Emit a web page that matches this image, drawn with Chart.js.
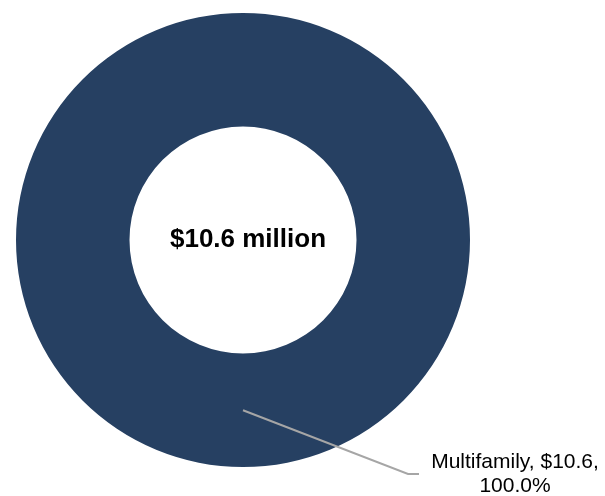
<!DOCTYPE html>
<html>
<head>
<meta charset="utf-8">
<script src="https://cdn.jsdelivr.net/npm/chart.js@4.4.0/dist/chart.umd.min.js"></script>
<style>
  html, body { margin: 0; padding: 0; background: #ffffff; }
  #wrap { position: relative; width: 605px; height: 496px; }
</style>
</head>
<body>
<div id="wrap"><canvas id="chart" width="605" height="496"></canvas></div>
<script>
// data
const categories = ['Multifamily'];
const values = [10.6];
const shares = ['100.0%'];
const totalLabel = '$10.6 million';

const sliceColors = ['#264062'];

// center total + leader-line labels
const donutLabels = {
  id: 'donutLabels',
  afterDatasetsDraw(chart) {
    const ctx = chart.ctx;
    const meta = chart.getDatasetMeta(0);
    const first = meta.data[0];

    // total in the hole
    ctx.save();
    ctx.fillStyle = '#000000';
    ctx.font = 'bold 26px "Liberation Sans", Arial, sans-serif';
    ctx.textAlign = 'center';
    ctx.textBaseline = 'middle';
    ctx.fillText(totalLabel, first.x + 5, first.y);
    ctx.restore();

    meta.data.forEach((arc, i) => {
      const p = arc.getProps(['x', 'y', 'startAngle', 'endAngle', 'innerRadius', 'outerRadius'], true);
      const mid = (p.startAngle + p.endAngle) / 2;
      const r = (p.innerRadius + p.outerRadius) / 2;
      const sx = p.x + Math.cos(mid) * r;
      const sy = p.y + Math.sin(mid) * r;
      const ex = p.x + 165, ey = p.y + 234;

      ctx.save();
      ctx.strokeStyle = '#a6a6a6';
      ctx.lineWidth = 2;
      ctx.beginPath();
      ctx.moveTo(sx, sy);
      ctx.lineTo(ex, ey);
      ctx.lineTo(ex + 11, ey);
      ctx.stroke();

      ctx.fillStyle = '#000000';
      ctx.font = '21px "Liberation Sans", Arial, sans-serif';
      ctx.textAlign = 'center';
      ctx.textBaseline = 'middle';
      const tx = ex + 107;
      ctx.fillText(categories[i] + ', $' + values[i].toFixed(1) + ',', tx, ey - 12);
      ctx.fillText(shares[i], tx, ey + 12);
      ctx.restore();
    });
  }
};

new Chart(document.getElementById('chart'), {
  type: 'doughnut',
  data: {
    labels: categories,
    datasets: [{
      data: values,
      backgroundColor: sliceColors,
      borderWidth: 0
    }]
  },
  options: {
    responsive: false,
    animation: false,
    cutout: '50%',
    layout: { padding: { left: 16, top: 13, right: 135, bottom: 29 } },
    plugins: {
      legend: { display: false },
      tooltip: { enabled: false }
    }
  },
  plugins: [donutLabels]
});
</script>
</body>
</html>
